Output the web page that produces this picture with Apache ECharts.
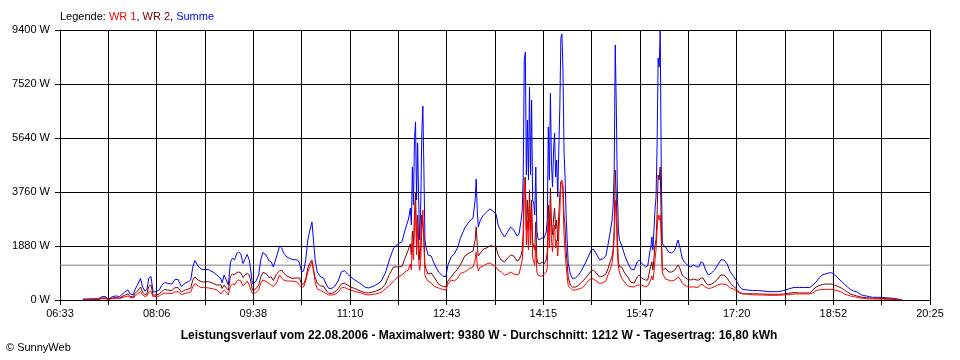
<!DOCTYPE html>
<html><head><meta charset="utf-8">
<script src="https://cdn.jsdelivr.net/npm/echarts@6/dist/echarts.min.js"></script>
<style>html,body{margin:0;padding:0;background:#fff}#c{width:960px;height:360px}</style>
</head><body><div id="c"></div>
<script>
// ---- data ----
const times = [
 '06:55','07:00','07:05','07:10','07:13','07:17','07:19','07:23','07:27','07:30','07:35','07:38','07:40','07:43','07:45','07:47','07:50','07:52','07:54','07:56','07:58','08:00','08:02','08:05','08:08','08:10','08:13','08:16','08:20','08:23','08:26','08:29','08:33','08:36','08:38',
 '08:40','08:42','08:45','08:48','08:50','08:55','09:00','09:03','09:05','09:07','09:08','09:10','09:12','09:14','09:16','09:18','09:20','09:22','09:24','09:26','09:28','09:30','09:32','09:34','09:36','09:37','09:40','09:43','09:45','09:47','09:50','09:53','09:55','09:57','10:00','10:03','10:05','10:07','10:10',
 '10:15','10:20','10:22','10:24','10:26','10:28','10:30','10:32','10:34','10:35','10:37','10:39','10:42','10:45','10:48','10:50','10:53','10:56','10:59','11:02','11:05','11:08','11:11','11:15','11:20','11:25','11:28','11:31','11:35','11:40','11:44','11:48','11:52','11:56','12:00','12:03','12:06',
 '12:07','12:08','12:09','12:10','12:11','12:12','12:13','12:14','12:15','12:16','12:17','12:18','12:19','12:20','12:21','12:22','12:23',
 '12:25','12:28','12:31','12:35','12:39','12:42','12:44','12:47','12:50','12:53','12:56','13:00','13:04','13:08','13:10','13:11','13:12','13:13','13:15','13:18','13:21','13:24','13:27','13:30','13:32','13:35','13:38','13:41','13:44','13:47','13:50','13:52','13:54',
 '13:55','13:56','13:57','13:58','13:59','14:00','14:01','14:02','14:03','14:04','14:05','14:06','14:07','14:08','14:09','14:10','14:11','14:12','14:14','14:16','14:18',
 '14:19','14:20','14:21','14:22','14:23','14:24','14:25','14:26','14:27','14:28','14:29','14:30','14:31','14:32','14:33','14:34','14:35','14:36','14:37','14:38',
 '14:39','14:41','14:43','14:46','14:49','14:52','14:55','14:58','15:01','15:03','15:06','15:09','15:12','15:15','15:17','15:19','15:21',
 '15:22','15:23','15:24','15:25','15:26','15:27','15:28','15:30','15:33','15:36','15:39','15:42','15:45','15:47','15:49','15:51','15:53','15:55','15:56','15:57',
 '15:58','15:59','16:00','16:01','16:02','16:03','16:04','16:05','16:06','16:07','16:08','16:09','16:10',
 '16:12','16:15','16:18','16:21','16:24','16:26','16:28','16:30','16:33','16:36','16:39','16:42','16:44','16:46','16:48','16:50','16:53','16:56','16:59','17:02','17:05','17:08','17:11','17:14','17:17','17:20','17:23','17:26',
 '17:30','17:35','17:40','17:45','17:50','17:55','18:00','18:05','18:10','18:15','18:20','18:25','18:30','18:33','18:36','18:39','18:42','18:45','18:48','18:51','18:54','18:57','19:00','19:03','19:06','19:09','19:12','19:15','19:18','19:21','19:24','19:27','19:30','19:35','19:40','19:45','19:50','19:55','19:58'
];
const wr1 = [
 15,15,20,20,45,45,8,50,55,50,110,140,85,70,150,210,295,180,125,140,280,295,110,120,140,195,245,230,225,285,285,190,235,260,280,
 455,575,490,435,435,420,385,350,280,210,200,350,280,175,490,555,520,660,695,660,490,555,660,520,315,235,245,350,590,695,645,580,520,470,590,870,765,695,660,
 660,625,520,440,455,660,975,1150,1325,1115,625,385,330,280,210,175,175,200,270,420,440,385,350,295,260,190,175,190,210,260,385,505,660,800,870,975,1045,
 1110,1250,1040,2000,1390,2610,3300,1570,2610,1390,1040,1390,2440,3130,1910,870,770,
 660,590,470,420,365,350,560,695,660,750,930,975,1080,1150,1395,1670,1220,1010,1150,1185,1255,1290,1220,1150,1045,975,870,905,975,905,870,905,1220,
 1390,1915,3830,4110,1915,2785,1740,3305,1915,3135,1460,1395,1220,1915,975,870,835,835,835,905,975,
 1115,2715,1810,3305,2090,1670,2365,2610,1810,2090,1530,2265,3065,4110,4180,3655,2265,1740,1220,835,
 490,420,350,350,385,420,520,660,755,730,660,580,590,660,870,1045,1290,
 1565,2195,3480,2800,1740,1150,975,765,625,490,465,455,520,520,520,490,455,490,555,625,
 695,835,695,975,1395,1740,2435,2960,2785,2960,2090,940,870,
 730,695,660,695,810,730,590,520,465,455,455,435,455,555,520,455,400,420,470,520,555,555,520,420,385,315,235,225,
 210,185,175,175,165,165,165,175,190,210,210,210,210,245,330,350,370,370,370,370,350,315,280,210,175,140,115,95,70,60,45,40,35,35,30,25,20,5,5
];
const wr2 = [
 20,20,25,25,70,70,12,70,85,70,170,210,125,105,235,310,455,275,190,210,485,525,170,175,210,295,365,345,330,430,430,280,355,385,415,
 695,800,695,645,625,640,570,520,530,520,400,520,415,345,835,905,875,960,975,940,780,875,925,875,555,345,380,520,805,960,920,780,805,680,905,1010,1045,930,835,
 750,770,770,545,555,735,1115,1285,1390,1150,770,590,490,485,310,230,230,290,390,555,585,520,450,400,320,250,245,265,310,385,545,890,1150,1150,1160,1460,1740,
 1850,1950,1570,2400,1920,2960,3760,1910,2960,2090,1390,1920,2960,2960,2260,1220,1080,
 905,940,785,555,470,460,660,800,940,1060,1230,1530,1635,1705,2090,2540,1910,1530,1635,1775,1810,1880,1880,1845,1565,1390,1325,1460,1565,1530,1360,1395,1565,
 1740,2370,4180,4280,2440,3480,2440,3830,2440,3480,2020,1980,1740,2715,1460,1290,1255,1255,1325,1255,1390,
 1670,3310,2370,3900,2680,2265,2855,3200,2470,2785,2055,2960,3655,4110,4110,4000,2960,2540,1740,1255,
 800,520,450,450,520,625,735,870,1010,1045,940,800,835,905,1080,1320,1530,
 1775,2440,4525,3585,2160,1320,1150,1150,940,800,615,590,800,870,770,730,695,695,840,1045,
 1045,1325,1045,1460,1915,2090,2960,4350,4180,4630,2610,1115,1045,
 1115,975,975,1045,1220,1080,870,800,730,695,730,695,695,765,765,625,520,555,620,730,870,870,765,590,485,380,260,210,
 215,215,215,205,200,200,195,210,235,255,245,245,245,350,450,505,540,555,555,555,520,470,420,350,280,210,175,140,115,85,80,70,60,60,55,45,35,15,10
];
const summe = [
 35,35,45,45,115,115,20,120,140,120,280,350,210,175,385,520,750,455,315,350,765,820,280,295,350,490,610,575,555,715,715,470,590,645,695,
 1150,1375,1185,1080,1060,1060,955,870,810,730,600,870,695,520,1325,1460,1395,1620,1670,1600,1270,1430,1585,1395,870,580,625,870,1395,1655,1565,1360,1325,1150,1495,1880,1810,1625,1495,
 1410,1395,1290,985,1010,1395,2090,2435,2715,2265,1395,975,820,765,520,405,405,490,660,975,1025,905,800,695,580,440,420,455,520,645,930,1395,1810,1950,2030,2435,2785,
 2960,3200,2610,4630,3310,5570,6200,3480,5470,3480,2090,3310,5810,6750,4530,2090,1850,
 1565,1530,1255,975,835,810,1220,1495,1600,1810,2160,2505,2715,2855,3480,4210,3130,2540,2785,2960,3065,3170,3100,2995,2610,2365,2195,2365,2540,2435,2230,2300,2785,
 3130,4280,8355,8630,4350,6265,4180,7415,4350,6965,3480,3375,2960,4630,2435,2160,2090,2090,2160,2160,2365,
 2785,6025,4180,7205,4770,3935,5220,5815,4280,4875,3585,5220,6720,9120,9260,8005,5220,4280,2960,2090,
 1290,905,755,765,870,1045,1255,1495,1740,1775,1600,1395,1430,1530,1915,2330,2785,
 3305,4525,8880,6720,3830,2435,2090,1915,1565,1290,1080,1045,1325,1395,1290,1220,1150,1185,1395,1670,
 1810,2195,1740,2435,3135,3585,5325,8425,8110,9380,4630,1985,1915,
 1845,1670,1635,1740,2090,1810,1460,1325,1220,1150,1220,1150,1150,1325,1290,1080,870,940,1045,1220,1395,1395,1255,975,835,660,455,370,
 350,330,330,315,290,290,290,330,385,440,435,435,435,520,625,765,870,905,940,950,870,765,660,555,455,365,315,280,210,155,140,115,95,95,85,70,60,25,15
];
const xTickLabels = ['06:33','08:06','09:38','11:10','12:43','14:15','15:47','17:20','18:52','20:25'];
const axisStart = '06:33', axisEnd = '20:25';
const gridSteps = 18;
const yMax = 9400, yStep = 1880;
const average = 1212;
const legendParts = [['Legende: ', 'k'], ['WR 1', 'r'], [', ', 'k'], ['WR 2', 'd'], [', ', 'k'], ['Summe', 'b']];
const titleText = 'Leistungsverlauf vom 22.08.2006 - Maximalwert: 9380 W - Durchschnitt: 1212 W - Tagesertrag: 16,80 kWh';
const copyright = '\u00A9 SunnyWeb';

// ---- build ----
const mins = t => { const [h, m] = t.split(':').map(Number); return h * 60 + m; };
const t0 = mins(axisStart), t1 = mins(axisEnd);
const toX = t => (mins(t) - t0) / (t1 - t0) * gridSteps;
const pairs = arr => times.map((t, i) => [toX(t), arr[i]]);

const FONT = 'Liberation Sans';
const chart = echarts.init(document.getElementById('c'), null, {renderer: 'canvas'});
const lineSeries = (name, data, color, z) => ({
  name, type: 'line', data, showSymbol: false, symbol: 'none', z,
  lineStyle: {color, width: 1}, itemStyle: {color}, animation: false, silent: true
});
chart.setOption({
  animation: false,
  grid: {left: 60, right: 30, top: 30, bottom: 60, containLabel: false, outerBoundsMode: 'none'},
  xAxis: {
    type: 'value', min: 0, max: gridSteps, interval: 1,
    axisLine: {show: true, lineStyle: {color: '#000', width: 1}},
    axisTick: {show: true, length: 5, lineStyle: {color: '#000', width: 1}},
    splitLine: {show: true, lineStyle: {color: '#000', width: 1}},
    axisLabel: {
      margin: 8, color: '#000', fontFamily: FONT, fontSize: 11,
      formatter: v => { const k = Math.round(v); return k % 2 === 0 ? xTickLabels[k / 2] : ''; }
    }
  },
  yAxis: {
    type: 'value', min: 0, max: yMax, interval: yStep,
    axisLine: {show: true, lineStyle: {color: '#000', width: 1}},
    axisTick: {show: true, length: 5, lineStyle: {color: '#000', width: 1}},
    splitLine: {show: true, lineStyle: {color: '#000', width: 1}},
    axisLabel: {margin: 10, color: '#000', fontFamily: FONT, fontSize: 11, formatter: v => v + ' W'}
  },
  graphic: [
    {type: 'text', left: 60, top: 11, style: {
      rich: {k: {fill: '#000', fontFamily: FONT, fontSize: 11}, r: {fill: '#ff0000', fontFamily: FONT, fontSize: 11},
             d: {fill: '#800000', fontFamily: FONT, fontSize: 11}, b: {fill: '#0000ff', fontFamily: FONT, fontSize: 11}},
      text: legendParts.map(([s, k]) => '{' + k + '|' + s + '}').join('')
    }},
    {type: 'text', x: 479, y: 336, style: {text: titleText, fill: '#000', font: 'bold 12px "Liberation Sans"', textAlign: 'center', textVerticalAlign: 'middle'}},
    {type: 'text', x: 6, y: 348, style: {text: copyright, fill: '#000', font: '11px "Liberation Sans"', textAlign: 'left', textVerticalAlign: 'middle'}}
  ],
  series: [
    lineSeries('Durchschnitt', [[0, average], [gridSteps, average]], '#808080', 1),
    lineSeries('Summe', pairs(summe), '#0000ff', 2),
    lineSeries('WR 2', pairs(wr2), '#800000', 3),
    lineSeries('WR 1', pairs(wr1), '#ff0000', 4)
  ]
});
</script></body></html>
